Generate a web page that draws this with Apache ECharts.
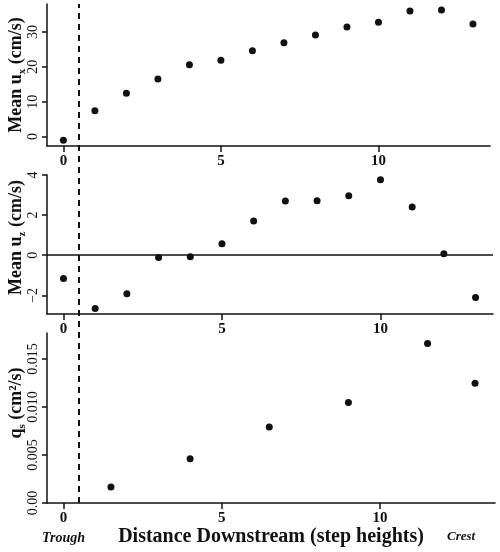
<!DOCTYPE html>
<html>
<head>
<meta charset="utf-8">
<script src="https://cdn.jsdelivr.net/npm/echarts@6/dist/echarts.min.js"></script>
<style>
  html, body { margin: 0; padding: 0; background: #fff; }
  #chart { width: 500px; height: 552px; }
</style>
</head>
<body>
<div id="chart"></div>
<script>
// step positions along the bed (step heights)
const stepX = [0, 1, 2, 3, 4, 5, 6, 7, 8, 9, 10, 11, 12, 13];
const meanUx = [-1.05, 7.4, 12.4, 16.5, 20.6, 21.9, 24.6, 26.9, 29.1, 31.4, 32.8, 36.0, 36.3, 32.3];
const meanUz = [-1.16, -2.65, -1.92, -0.11, -0.08, 0.57, 1.71, 2.70, 2.71, 2.96, 3.76, 2.40, 0.07, -2.11];
const qsX = [1.5, 4, 6.5, 9, 11.5, 13];
const qsVal = [0.00166, 0.0046, 0.0079, 0.01046, 0.0166, 0.01247];

const xTicks = [0, 5, 10];
const uxTicks = [0, 10, 20, 30];
const uzTicks = [-2, 0, 2, 4];
const qsTicks = [0, 0.005, 0.010, 0.015];
const qsTickLabels = ['0.00', '0.005', '0.010', '0.015'];
const dashX = 0.5;

const serif = '"Liberation Serif", "DejaVu Serif", serif';
const ink = '#111';

const pairs = (xs, ys) => xs.map((x, i) => [x, ys[i]]);

function xAxisCfg(idx, max, extra) {
  return Object.assign({
    gridIndex: idx,
    type: 'value',
    min: -0.52,
    max: max,
    axisLine: { show: true, onZero: false, lineStyle: { color: ink, width: 1.5 } },
    axisTick: { show: true, length: 6, customValues: xTicks, lineStyle: { color: ink, width: 1.5 } },
    axisLabel: {
      customValues: xTicks, margin: 8, color: ink,
      fontFamily: serif, fontWeight: 'bold', fontSize: 15
    },
    splitLine: { show: false }
  }, extra || {});
}

function yAxisCfg(idx, min, max, ticks, fmt, name, pad) {
  return {
    gridIndex: idx,
    type: 'value',
    min: min,
    max: max,
    name: name,
    nameLocation: 'middle',
    nameGap: 19,
    nameMoveOverlap: false,
    nameRotate: 90,
    nameTextStyle: {
      padding: [0, 0, 0, pad],
      rich: {
        b: { fontFamily: serif, fontWeight: 'bold', fontSize: 18, lineHeight: 24, color: ink },
        sub: { fontFamily: serif, fontWeight: 'bold', fontSize: 11, verticalAlign: 'bottom', color: ink }
      }
    },
    axisLine: { show: true, onZero: false, lineStyle: { color: ink, width: 1.5 } },
    axisTick: { show: true, length: 5, customValues: ticks, lineStyle: { color: ink, width: 1.5 } },
    axisLabel: {
      customValues: ticks, rotate: 90, margin: 7, color: ink,
      fontFamily: serif, fontSize: 14, formatter: fmt
    },
    splitLine: { show: false }
  };
}

const dot = { color: '#111', opacity: 1 };

const chart = echarts.init(document.getElementById('chart'));
chart.setOption({
  backgroundColor: '#fff',
  animation: false,
  grid: [
    { left: 47, top: 4, width: 443, height: 142, outerBoundsMode: 'none' },
    { left: 47, top: 175, width: 446, height: 139, outerBoundsMode: 'none' },
    { left: 47, top: 333, width: 448, height: 170, outerBoundsMode: 'none' },
    { left: 47, top: 4, width: 443, height: 499, outerBoundsMode: 'none' }
  ],
  xAxis: [
    xAxisCfg(0, 13.54),
    xAxisCfg(1, 13.55),
    xAxisCfg(2, 13.63, {
      name: 'Distance Downstream (step heights)',
      nameLocation: 'middle',
      nameGap: 24,
      nameMoveOverlap: false,
      nameTextStyle: { fontFamily: serif, fontWeight: 'bold', fontSize: 20, color: ink }
    }),
    { gridIndex: 3, type: 'value', min: -0.52, max: 13.54, show: false }
  ],
  yAxis: [
    yAxisCfg(0, -2.7, 38, uxTicks, v => String(v), '{b|Mean u}{sub|x}{b| (cm/s)}', 0),
    yAxisCfg(1, -2.93, 4, uzTicks, v => (v < 0 ? '\u2212' + Math.abs(v) : String(v)), '{b|Mean u}{sub|z}{b| (cm/s)}', 14),
    yAxisCfg(2, 0, 0.0177, qsTicks, v => qsTickLabels[qsTicks.findIndex(t => Math.abs(t - v) < 1e-9)], '{b|q}{sub|s}{b| (cm\u00b2/s)}', 30),
    { gridIndex: 3, type: 'value', min: 0, max: 1, show: false }
  ],
  graphic: [
    {
      type: 'text', left: 42, top: 531,
      style: { text: 'Trough', font: 'italic bold 14px ' + serif, fill: ink }
    },
    {
      type: 'text', left: 447, top: 530,
      style: { text: 'Crest', font: 'italic bold 13px ' + serif, fill: ink }
    }
  ],
  series: [
    {
      type: 'scatter', xAxisIndex: 0, yAxisIndex: 0,
      symbolSize: 7, itemStyle: dot,
      data: pairs(stepX, meanUx)
    },
    {
      type: 'scatter', xAxisIndex: 1, yAxisIndex: 1,
      symbolSize: 7, itemStyle: dot,
      data: pairs(stepX, meanUz),
      markLine: {
        silent: true, symbol: 'none', label: { show: false },
        lineStyle: { color: ink, type: 'solid', width: 1.5 },
        data: [{ yAxis: 0 }]
      }
    },
    {
      type: 'scatter', xAxisIndex: 2, yAxisIndex: 2,
      symbolSize: 7, itemStyle: dot,
      data: pairs(qsX, qsVal)
    },
    {
      type: 'scatter', xAxisIndex: 3, yAxisIndex: 3,
      data: [],
      markLine: {
        silent: true, symbol: 'none', label: { show: false },
        lineStyle: { color: ink, type: [6, 5], width: 2 },
        data: [{ xAxis: dashX }]
      }
    }
  ]
});
</script>
</body>
</html>
